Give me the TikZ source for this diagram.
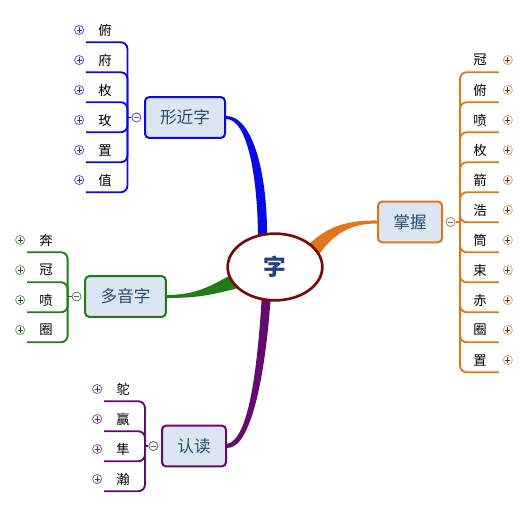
\documentclass[tikz,border=0pt]{standalone}
\usepackage{fontspec}
\newfontfamily\cjk{Noto Sans CJK SC}
\usetikzlibrary{positioning,calc,shapes.geometric,backgrounds}
\definecolor{mapblue}{HTML}{0A0AE6}
\definecolor{mapgreen}{HTML}{1E7D14}
\definecolor{mappurple}{HTML}{650A6E}
\definecolor{maporange}{HTML}{E0761A}
\definecolor{mapred}{HTML}{7A0A0A}
\definecolor{mapfill}{HTML}{DCE6F2}
\definecolor{maptext}{HTML}{2E4A6B}

\begin{document}
\begin{tikzpicture}[x=0.75pt,y=-0.75pt,
every node/.style={font=\cjk},
topic/.style={draw=#1,line width=1.5pt,rounded corners=3pt,fill=mapfill,minimum height=30.5pt,text=maptext,font=\cjk\fontsize{12.5}{14}\selectfont},
leaf/.style={minimum width=28pt,minimum height=18pt,inner sep=0pt,font=\cjk\fontsize{10}{12}\selectfont},
plusc/.style={circle,draw=#1!70,line width=0.6pt,minimum size=6.8pt,inner sep=0pt,
  path picture={\draw[black!75,line width=0.6pt] ([xshift=-1.9pt]path picture bounding box.center) -- ([xshift=1.9pt]path picture bounding box.center);
  \draw[black!75,line width=0.6pt] ([yshift=-1.9pt]path picture bounding box.center) -- ([yshift=1.9pt]path picture bounding box.center);}},
fold/.style={circle,draw=#1!45!gray,line width=0.6pt,fill=white,minimum size=6.8pt,inner sep=0pt,
  path picture={\draw[black!60,line width=0.6pt] ([xshift=-2pt]path picture bounding box.center) -- ([xshift=2pt]path picture bounding box.center);}},
twig/.style={draw=#1,line width=1.4pt,rounded corners=5pt}
]
\useasboundingbox (0,0) rectangle (527,507);

% centre
\node[ellipse,draw=mapred,line width=2pt,fill=white,minimum width=71pt,minimum height=50pt,text=maptext!85!blue,font=\cjk\bfseries\fontsize{17}{20}\selectfont] (zi) at (275,267) {字};

% main topics
\node[topic=mapblue,minimum width=60pt] (xing) at (185,117.5) {形近字};
\node[topic=mapgreen,minimum width=60.5pt] (duo) at (125.5,296.5) {多音字};
\node[topic=mappurple,minimum width=48pt] (du) at (194,446) {认读};
\node[topic=maporange,minimum width=48pt] (zhang) at (410,222) {掌握};

% ribbons to the centre
\begin{scope}[on background layer]
\fill[mapblue] ($(xing.east)+(0,-1.5)$) .. controls (253,115.5) and (268,175) .. ($(zi.north)+(-8,8)$)
  -- ($(zi.north)+(-17,8)$) .. controls (258,180) and (248,118.5) .. ($(xing.east)+(0,1.5)$) -- cycle;
\fill[mapgreen] ($(duo.east)+(0,-1.5)$) .. controls (200,295) and (215,283) .. ($(zi.west)+(10,5)$)
  -- ($(zi.west)+(12,21)$) .. controls (215,294) and (200,298) .. ($(duo.east)+(0,1.5)$) -- cycle;
\fill[mappurple] ($(du.east)+(0,-2)$) .. controls (250,440) and (258,360) .. ($(zi.south)+(-13,-8.5)$)
  -- ($(zi.south)+(-4,-8.5)$) .. controls (266,370) and (252,449) .. ($(du.east)+(0,2)$) -- cycle;
\fill[maporange] ($(zhang.west)+(0,-1.5)$) .. controls (345,220) and (325,228) .. ($(zi.east)+(-16.5,-21)$)
  -- ($(zi.east)+(-6.5,-10)$) .. controls (333,234) and (350,223.5) .. ($(zhang.west)+(0,1.5)$) -- cycle;
\end{scope}

% fold markers and junctions
\node[fold=mapblue,left=2pt of xing] (xm) {};
\node[fold=mapgreen,left=2pt of duo] (dm) {};
\node[fold=mappurple,left=2pt of du] (um) {};
\node[fold=maporange,right=2pt of zhang] (zm) {};
\coordinate (xj) at ($(xm.west)+(-4,0)$);
\coordinate (dj) at ($(dm.west)+(-4,0)$);
\coordinate (uj) at ($(um.west)+(-3.5,0)$);
\coordinate (zj) at ($(zm.east)+(4.5,0)$);
\draw[twig=mapblue] (xm.west) -- (xj);
\draw[twig=mapgreen] (dm.west) -- (dj);
\draw[twig=mappurple] (um.west) -- (uj);
\draw[twig=maporange] (zm.east) -- (zj);

% 形近字
\foreach \c [count=\i] in {俯,府,枚,玫,置,值} {
  \node[leaf] (xl\i) at (105,{30*\i}) {\c};
  \node[plusc=mapblue,left=1.5pt of xl\i] (xp\i) {};
  \draw[twig=mapblue] (xl\i.south west) -| (xj);
}

% 多音字
\foreach \c [count=\i] in {奔,冠,喷,圈} {
  \node[leaf] (dl\i) at (46,{210+30*\i}) {\c};
  \node[plusc=mapgreen,left=1.5pt of dl\i] (dp\i) {};
  \draw[twig=mapgreen] (dl\i.south west) -| (dj);
}

% 认读
\foreach \c [count=\i] in {鸵,赢,隼,瀚} {
  \node[leaf] (ul\i) at (123,{359+30*\i}) {\c};
  \node[plusc=mappurple,left=1.5pt of ul\i] (up\i) {};
  \draw[twig=mappurple] (ul\i.south west) -| (uj);
}

% 掌握
\foreach \c [count=\i] in {冠,俯,喷,枚,箭,浩,筒,束,赤,圈,置} {
  \node[leaf] (zl\i) at (480,{30+30*\i}) {\c};
  \node[plusc=maporange,right=3pt of zl\i] (zp\i) {};
  \draw[twig=maporange] (zl\i.south east) -| (zj);
}
\end{tikzpicture}
\end{document}
